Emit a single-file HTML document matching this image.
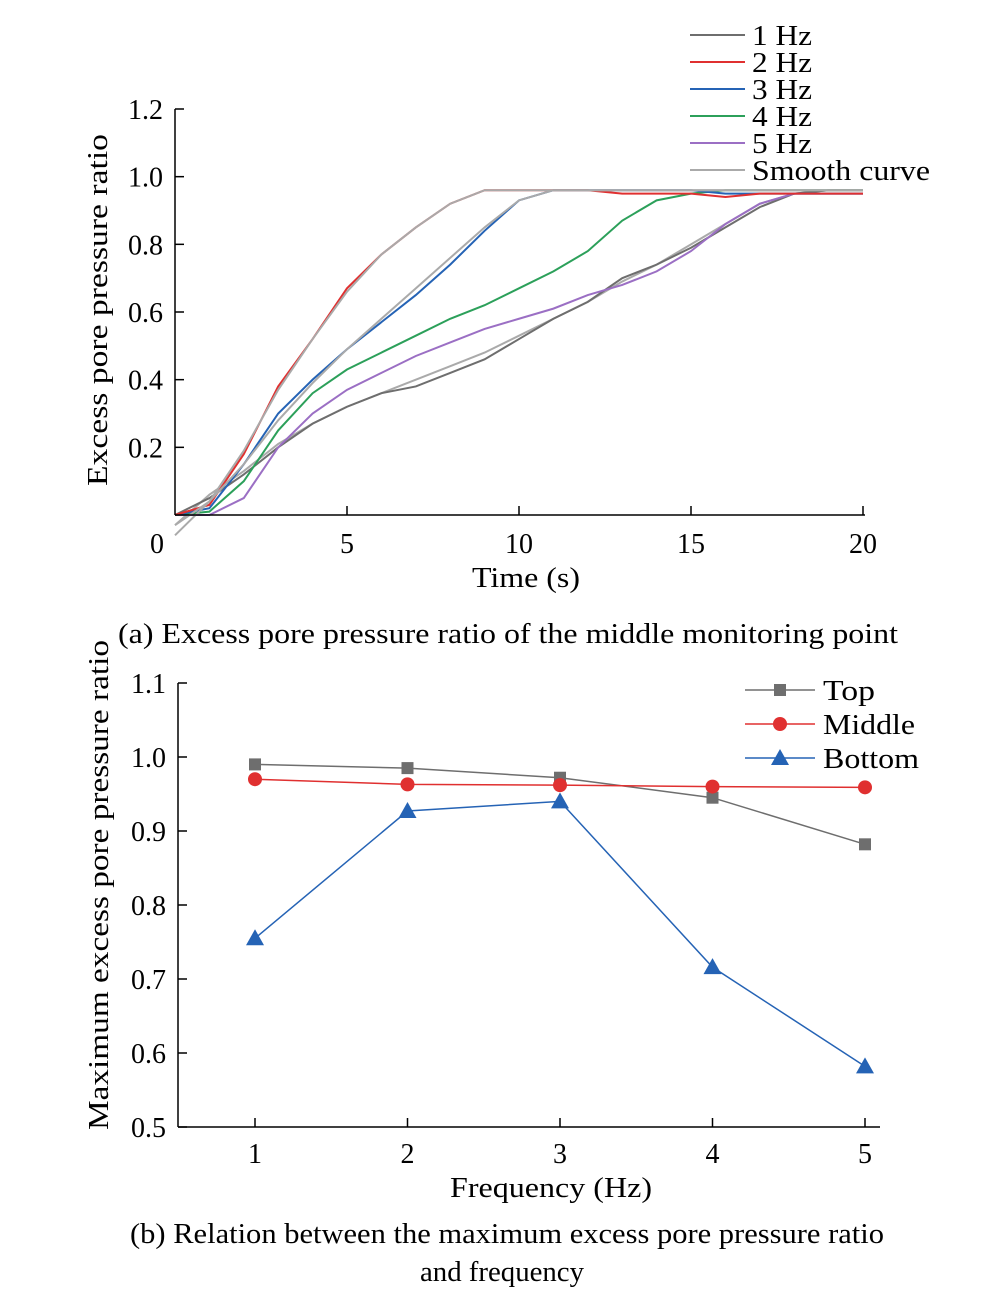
<!DOCTYPE html>
<html><head><meta charset="utf-8"><style>
body{margin:0;background:#fff}
svg{display:block;font-family:"Liberation Serif",serif}
</style></head><body>
<svg id="s" width="989" height="1313" viewBox="0 0 989 1313">
<g id="ga"></g>
<g id="gb"></g>
<text x="118" y="643" font-size="28" textLength="780" lengthAdjust="spacingAndGlyphs">(a) Excess pore pressure ratio of the middle monitoring point</text>
<text x="130" y="1243" font-size="28" textLength="754" lengthAdjust="spacingAndGlyphs">(b) Relation between the maximum excess pore pressure ratio</text>
<text x="420" y="1281" font-size="28" textLength="164" lengthAdjust="spacingAndGlyphs">and frequency</text>
</svg>
<script>
// Chart A data (time 0..20 s, 1 s steps)
const timesA=[0,1,2,3,4,5,6,7,8,9,10,11,12,13,14,15,16,17,18,19,20];
const hz1=[0,0.05,0.12,0.2,0.27,0.32,0.36,0.38,0.42,0.46,0.52,0.58,0.63,0.7,0.74,0.79,0.85,0.91,0.95,0.96,0.96];
const hz2=[0,0.03,0.18,0.38,0.52,0.67,0.77,0.85,0.92,0.96,0.96,0.96,0.96,0.95,0.95,0.95,0.94,0.95,0.95,0.95,0.95];
const hz3=[0,0.02,0.15,0.3,0.4,0.49,0.57,0.65,0.74,0.84,0.93,0.96,0.96,0.96,0.96,0.96,0.95,0.95,0.95,0.95,0.95];
const hz4=[0,0.01,0.1,0.25,0.36,0.43,0.48,0.53,0.58,0.62,0.67,0.72,0.78,0.87,0.93,0.95,0.96,0.96,0.96,0.96,0.96];
const hz5=[0,0,0.05,0.2,0.3,0.37,0.42,0.47,0.51,0.55,0.58,0.61,0.65,0.68,0.72,0.78,0.86,0.92,0.95,0.95,0.95];
const smooth2=[-0.06,0.04,0.19,0.37,0.52,0.66,0.77,0.85,0.92,0.96,0.96,0.96,0.96,0.96,0.96,0.96,0.96,0.96,0.96,0.96,0.96];
const smooth3=[-0.03,0.04,0.15,0.28,0.39,0.49,0.58,0.67,0.76,0.85,0.93,0.96,0.96,0.96,0.96,0.96,0.96,0.96,0.96,0.96,0.96];
const smooth1=[-0.03,0.06,0.13,0.21,0.27,0.32,0.36,0.4,0.44,0.48,0.53,0.58,0.63,0.69,0.74,0.8,0.86,0.92,0.95,0.96,0.96];
const ticksAx=[0,5,10,15,20];
const ticksAy=[0.2,0.4,0.6,0.8,1.0,1.2];
// Chart B data
const freqs=[1,2,3,4,5];
const topVals=[0.99,0.985,0.972,0.945,0.882];
const midVals=[0.97,0.963,0.962,0.960,0.959];
const botVals=[0.755,0.927,0.94,0.716,0.582];
const ticksBy=[0.5,0.6,0.7,0.8,0.9,1.0,1.1];

const NS="http://www.w3.org/2000/svg";
function mk(p,t,a,txt){const e=document.createElementNS(NS,t);for(const k in a)e.setAttribute(k,a[k]);if(txt!==undefined)e.textContent=txt;p.appendChild(e);return e;}
const ga=document.getElementById('ga'),gb=document.getElementById('gb');
const FS=28;
// Chart A
const ax=t=>175+t*34.4, ay=v=>515-v*(406/1.2);
const series=[[smooth1,'#aaaaaa','smooth-curve-1hz'],[hz1,'#6e6e6e','line-1hz'],[hz5,'#9b6fc4','line-5hz'],[hz4,'#2ca05a','line-4hz'],[hz3,'#2563b5','line-3hz'],[hz2,'#e03030','line-2hz'],[smooth3,'#aaaaaa','smooth-curve-3hz'],[smooth2,'#aaaaaa','smooth-curve-2hz']];
series.forEach(s=>{const p=mk(ga,'polyline',{points:s[0].map((v,i)=>ax(timesA[i])+','+ay(v)).join(' '),fill:'none',stroke:s[1],'stroke-width':2});

});
mk(ga,'line',{x1:175,y1:109,x2:175,y2:515,stroke:'#000','stroke-width':1.5});
mk(ga,'line',{x1:175,y1:515,x2:865,y2:515,stroke:'#000','stroke-width':1.5});
ticksAy.forEach(v=>{mk(ga,'line',{x1:175,y1:ay(v),x2:184,y2:ay(v),stroke:'#000','stroke-width':1.5});
const t=mk(ga,'text',{x:163,y:ay(v)+10,'font-size':FS,'text-anchor':'end'},v.toFixed(1));

});
ticksAx.forEach(v=>{if(v>0)mk(ga,'line',{x1:ax(v),y1:515,x2:ax(v),y2:506,stroke:'#000','stroke-width':1.5});
const t=mk(ga,'text',{x:v==0?157:ax(v),y:553,'font-size':FS,'text-anchor':'middle'},String(v));

});
let t=mk(ga,'text',{x:472,y:587,'font-size':FS,textLength:108,lengthAdjust:'spacingAndGlyphs'},'Time (s)');


t=mk(ga,'text',{x:0,y:0,'font-size':FS,'text-anchor':'middle',textLength:352,lengthAdjust:'spacingAndGlyphs',transform:'translate(107,310) rotate(-90)'},'Excess pore pressure ratio');


const legA=[['1 Hz','#6e6e6e',60],['2 Hz','#e03030',60],['3 Hz','#2563b5',60],['4 Hz','#2ca05a',60],['5 Hz','#9b6fc4',60],['Smooth curve','#aaaaaa',178]];
legA.forEach((l,i)=>{const y=35+i*27;mk(ga,'line',{x1:690,y1:y,x2:745,y2:y,stroke:l[1],'stroke-width':2});
const e=mk(ga,'text',{x:752,y:y+10,'font-size':FS,textLength:l[2],lengthAdjust:'spacingAndGlyphs'},l[0]);

});
// Chart B
const bx=f=>255+(f-1)*152.5, by=v=>1127-(v-0.5)*740;
mk(gb,'line',{x1:178,y1:683,x2:178,y2:1127,stroke:'#000','stroke-width':1.5});
mk(gb,'line',{x1:178,y1:1127,x2:880,y2:1127,stroke:'#000','stroke-width':1.5});
ticksBy.forEach(v=>{mk(gb,'line',{x1:178,y1:by(v),x2:187,y2:by(v),stroke:'#000','stroke-width':1.5});
const e=mk(gb,'text',{x:166,y:by(v)+10,'font-size':FS,'text-anchor':'end'},v.toFixed(1));

});
freqs.forEach(f=>{mk(gb,'line',{x1:bx(f),y1:1127,x2:bx(f),y2:1118,stroke:'#000','stroke-width':1.5});
const e=mk(gb,'text',{x:bx(f),y:1163,'font-size':FS,'text-anchor':'middle'},String(f));

});
t=mk(gb,'text',{x:450,y:1197,'font-size':FS,textLength:202,lengthAdjust:'spacingAndGlyphs'},'Frequency (Hz)');


t=mk(gb,'text',{x:0,y:0,'font-size':FS,'text-anchor':'middle',textLength:490,lengthAdjust:'spacingAndGlyphs',transform:'translate(108,885) rotate(-90)'},'Maximum excess pore pressure ratio');


function marker(g,type,x,y,c){if(type=='sq')return mk(g,'rect',{x:x-6,y:y-6,width:12,height:12,fill:c});
if(type=='ci')return mk(g,'circle',{cx:x,cy:y,r:7,fill:c});
return mk(g,'polygon',{points:`${x},${y-9} ${x-9},${y+7} ${x+9},${y+7}`,fill:c});}
const sb=[[topVals,'#6e6e6e','sq','Top',52],[midVals,'#e03030','ci','Middle',92],[botVals,'#2563b5','tr','Bottom',96]];
sb.forEach((s,k)=>{const p=mk(gb,'polyline',{points:s[0].map((v,i)=>bx(freqs[i])+','+by(v)).join(' '),fill:'none',stroke:s[1],'stroke-width':1.5});


s[0].forEach((v,i)=>{const m=marker(gb,s[2],bx(freqs[i]),by(v),s[1]);

});
const y=690+k*34;mk(gb,'line',{x1:745,y1:y,x2:815,y2:y,stroke:s[1],'stroke-width':1.5});marker(gb,s[2],780,y,s[1]);
const e=mk(gb,'text',{x:823,y:y+10,'font-size':FS,textLength:s[4],lengthAdjust:'spacingAndGlyphs'},s[3]);

});
</script>
</body></html>
